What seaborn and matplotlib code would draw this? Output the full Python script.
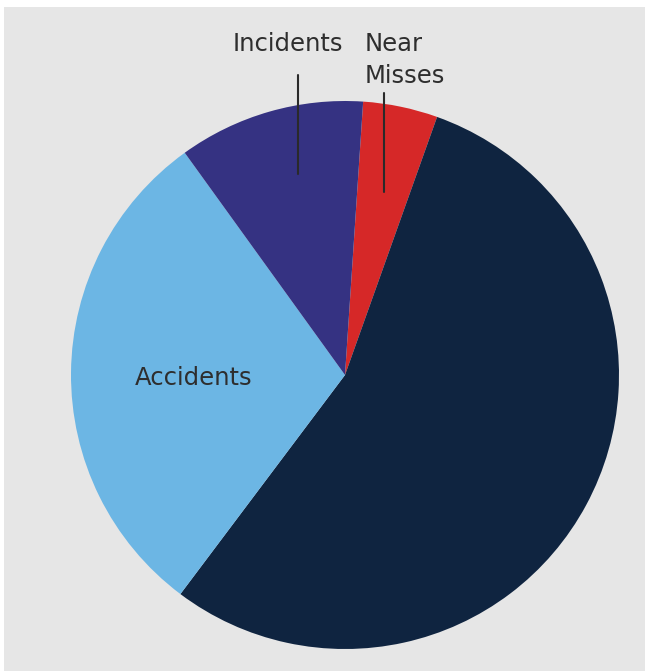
import matplotlib
matplotlib.use("Agg")
import matplotlib.pyplot as plt
from matplotlib.patches import Rectangle
import seaborn as sns

# Share of reported safety events by type (clockwise from the top)
categories = ["Near Misses", "Other", "Accidents", "Incidents"]
shares = [4.4, 54.8, 29.8, 11.0]
colors = ["#d62828", "#0f2440", "#6cb6e4", "#353282"]

sns.set_theme(style="white")
plt.rcParams["font.family"] = ["DejaVu Sans"]

W, H = 645, 671
fig = plt.figure(figsize=(W / 100, H / 100), dpi=100)
fig.patch.set_facecolor("white")

ax = fig.add_axes([0, 0, 1, 1])
ax.set_facecolor("none")
ax.axis("off")

# grey panel behind the pie
ax.add_patch(Rectangle((4, 0), W - 4, H - 7, facecolor="#e6e6e6",
                       edgecolor="none", zorder=0))

cx, cy, r = 345, H - 375, 274
ax.pie(shares, colors=sns.color_palette(colors), startangle=86.2,
       counterclock=False, center=(cx, cy), radius=r,
       wedgeprops=dict(linewidth=0, zorder=1))
ax.set_xlim(0, W)
ax.set_ylim(0, H)
ax.set_aspect("equal")

txt = "#2e2e2e"
fs = 17.5
ax.text(288, H - 51, "Incidents", ha="center", va="baseline", fontsize=fs, color=txt, zorder=3)
ax.text(365, H - 51, "Near", ha="left", va="baseline", fontsize=fs, color=txt, zorder=3)
ax.text(365, H - 83, "Misses", ha="left", va="baseline", fontsize=fs, color=txt, zorder=3)
ax.text(194, H - 378, "Accidents", ha="center", va="center", fontsize=fs, color=txt, zorder=3)

ax.plot([298, 298], [H - 75, H - 174], color="#2a2a2a", lw=1.5, zorder=3)
ax.plot([384, 384], [H - 93, H - 192], color="#2a2a2a", lw=1.5, zorder=3)

fig.savefig("out.png", dpi=100)
